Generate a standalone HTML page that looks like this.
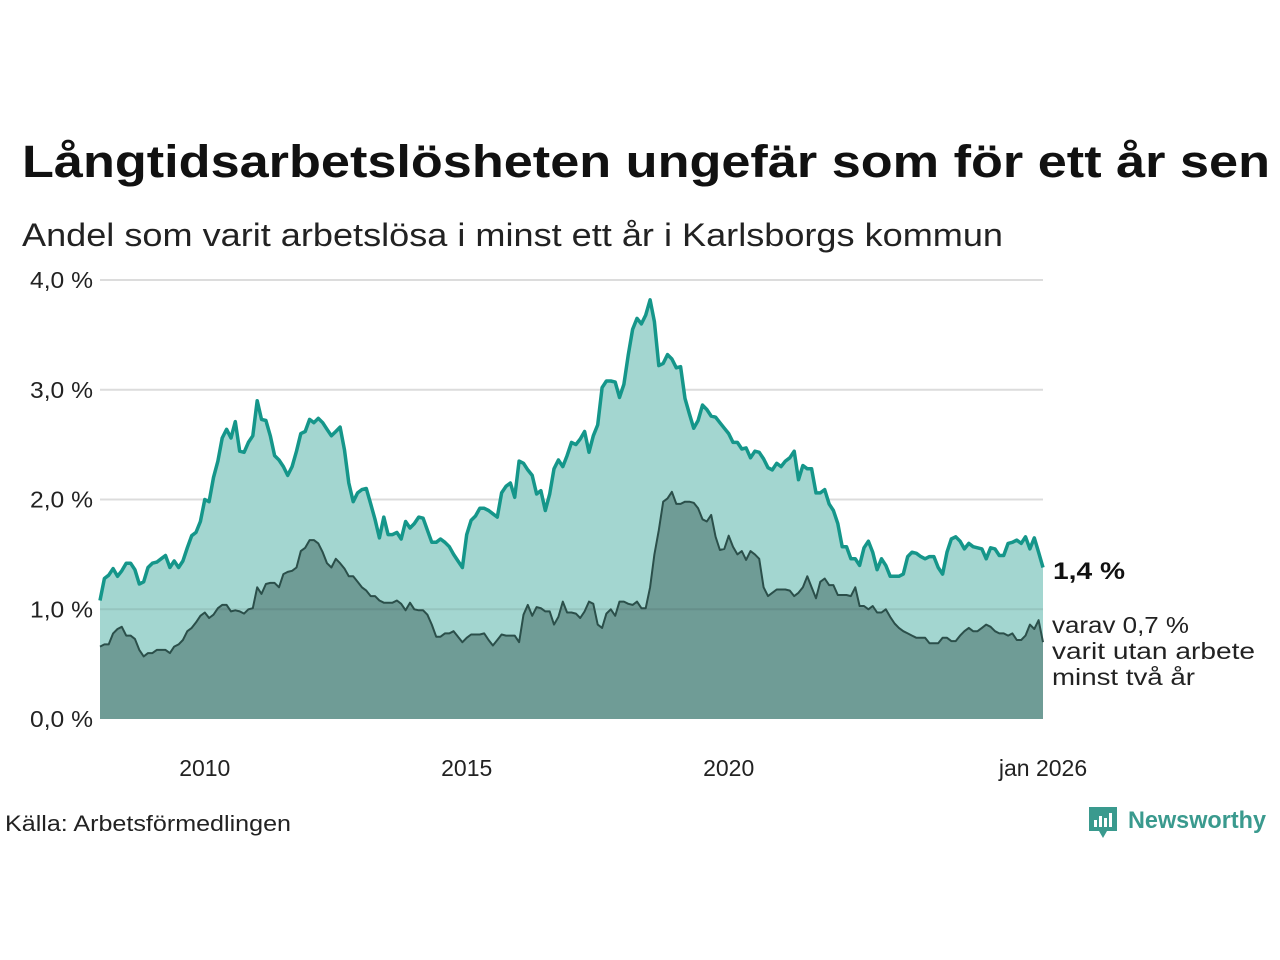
<!DOCTYPE html>
<html><head><meta charset="utf-8"><style>
html,body{margin:0;padding:0;background:#fff;}
svg{display:block;font-family:"Liberation Sans","DejaVu Sans",sans-serif;}
</style></head><body>
<svg id="chart" width="1280" height="960" viewBox="0 0 1280 960">
<text x="22" y="177" font-size="45" font-weight="bold" fill="#111" textLength="1248" lengthAdjust="spacingAndGlyphs">Långtidsarbetslösheten ungefär som för ett år sen</text>
<text x="22" y="246" font-size="32" fill="#222" textLength="981" lengthAdjust="spacingAndGlyphs">Andel som varit arbetslösa i minst ett år i Karlsborgs kommun</text>
<g id="grid"></g>
<g id="areas"></g>
<g id="yticks"></g>
<g id="xticks"></g>
<text x="1053" y="579" font-size="24" font-weight="bold" fill="#111" textLength="72" lengthAdjust="spacingAndGlyphs">1,4 %</text>
<text font-size="23" fill="#222"><tspan x="1052" y="633" textLength="137" lengthAdjust="spacingAndGlyphs">varav 0,7 %</tspan><tspan x="1052" y="659" textLength="203" lengthAdjust="spacingAndGlyphs">varit utan arbete</tspan><tspan x="1052" y="685" textLength="143" lengthAdjust="spacingAndGlyphs">minst två år</tspan></text>
<text x="5" y="831" font-size="22" fill="#222" textLength="286" lengthAdjust="spacingAndGlyphs">Källa: Arbetsförmedlingen</text>
<g>
<path d="M1089 807 h28 v24 h-10 l-4 7 l-4 -7 h-10 z" fill="#3a9a8e"/>
<rect x="1094" y="820" width="3" height="7" fill="#fff"/><rect x="1099" y="816" width="3" height="11" fill="#fff"/><rect x="1104" y="818" width="3" height="9" fill="#fff"/><rect x="1109" y="813" width="3" height="14" fill="#fff"/>
<text x="1128" y="828" font-size="24" font-weight="bold" fill="#3a9a8e" textLength="138" lengthAdjust="spacingAndGlyphs">Newsworthy</text>
</g>
</svg>
<script>
const startYear = 2008;
const total = [
1.08,1.28,1.31,1.37,1.30,1.35,1.42,1.42,1.36,1.23,1.25,1.38,
1.42,1.43,1.46,1.49,1.38,1.44,1.38,1.44,1.56,1.67,1.70,1.80,
2.00,1.98,2.20,2.35,2.56,2.64,2.56,2.71,2.44,2.43,2.52,2.58,
2.90,2.73,2.72,2.58,2.40,2.36,2.30,2.22,2.30,2.44,2.60,2.62,
2.73,2.70,2.74,2.70,2.64,2.58,2.62,2.66,2.45,2.15,1.98,2.06,
2.09,2.10,1.96,1.82,1.65,1.84,1.68,1.68,1.70,1.64,1.80,1.74,
1.78,1.84,1.83,1.72,1.61,1.61,1.64,1.61,1.57,1.50,1.44,1.38,
1.68,1.81,1.85,1.92,1.92,1.90,1.87,1.84,2.06,2.12,2.15,2.02,
2.35,2.33,2.27,2.22,2.05,2.08,1.90,2.05,2.28,2.36,2.30,2.40,
2.52,2.50,2.55,2.62,2.43,2.58,2.68,3.02,3.08,3.08,3.07,2.93,
3.05,3.32,3.55,3.65,3.60,3.68,3.82,3.62,3.22,3.24,3.32,3.28,
3.20,3.21,2.92,2.78,2.65,2.72,2.86,2.82,2.76,2.75,2.70,2.65,
2.60,2.52,2.52,2.46,2.47,2.38,2.44,2.43,2.37,2.29,2.27,2.33,
2.30,2.35,2.38,2.44,2.18,2.31,2.28,2.28,2.06,2.06,2.09,1.96,
1.90,1.78,1.57,1.57,1.46,1.46,1.40,1.56,1.62,1.52,1.36,1.46,
1.40,1.30,1.30,1.30,1.32,1.48,1.52,1.51,1.48,1.46,1.48,1.48,
1.38,1.32,1.52,1.64,1.66,1.62,1.55,1.60,1.57,1.56,1.55,1.46,
1.56,1.55,1.49,1.49,1.60,1.61,1.63,1.60,1.66,1.55,1.65,1.52,
1.38];
const longterm = [
0.66,0.68,0.68,0.78,0.82,0.84,0.76,0.76,0.73,0.63,0.57,0.60,
0.60,0.63,0.63,0.63,0.60,0.66,0.68,0.72,0.80,0.83,0.88,0.94,
0.97,0.92,0.95,1.01,1.04,1.04,0.98,0.99,0.98,0.96,1.00,1.01,
1.20,1.14,1.23,1.24,1.24,1.20,1.32,1.34,1.35,1.38,1.53,1.56,
1.63,1.63,1.60,1.52,1.42,1.38,1.46,1.42,1.37,1.30,1.30,1.25,
1.20,1.17,1.12,1.12,1.08,1.06,1.06,1.06,1.08,1.05,0.99,1.06,
1.00,0.99,0.99,0.95,0.86,0.75,0.75,0.78,0.78,0.80,0.75,0.70,
0.74,0.77,0.77,0.77,0.78,0.72,0.67,0.72,0.77,0.76,0.76,0.76,
0.70,0.95,1.04,0.94,1.02,1.01,0.98,0.98,0.86,0.93,1.07,0.97,
0.97,0.96,0.92,0.98,1.07,1.05,0.86,0.83,0.96,1.00,0.94,1.07,
1.07,1.05,1.04,1.07,1.01,1.01,1.20,1.50,1.72,1.98,2.01,2.07,
1.96,1.96,1.98,1.98,1.97,1.92,1.82,1.80,1.86,1.66,1.54,1.55,
1.67,1.57,1.50,1.53,1.45,1.53,1.50,1.46,1.20,1.12,1.15,1.18,
1.18,1.18,1.17,1.12,1.15,1.20,1.30,1.20,1.10,1.25,1.28,1.22,
1.22,1.13,1.13,1.13,1.12,1.20,1.03,1.03,1.00,1.03,0.97,0.97,
1.00,0.93,0.87,0.83,0.80,0.78,0.76,0.74,0.74,0.74,0.69,0.69,
0.69,0.74,0.74,0.71,0.71,0.76,0.80,0.83,0.80,0.80,0.83,0.86,
0.84,0.80,0.78,0.78,0.76,0.78,0.72,0.72,0.76,0.86,0.82,0.90,
0.70];
const yTicks = [0,1,2,3,4];
const yTickLabels = ["0,0 %","1,0 %","2,0 %","3,0 %","4,0 %"];
const xTickMonths = [24,84,144,216];
const xTickLabels = ["2010","2015","2020","jan 2026"];

const NS = "http://www.w3.org/2000/svg";
const X0 = 100, X1 = 1043, Y0 = 719, Y4 = 280;
const n = total.length;
const xs = i => X0 + (X1 - X0) * i / (n - 1);
const ys = v => Y0 - (Y0 - Y4) * v / 4;
function mk(tag, attrs, parent) {
  const e = document.createElementNS(NS, tag);
  for (const k in attrs) e.setAttribute(k, attrs[k]);
  parent.appendChild(e);
  return e;
}
const grid = document.getElementById('grid');
const yt = document.getElementById('yticks');
yTicks.forEach((t, i) => {
  if (t > 0) {
    const l = mk('line', {x1: X0, x2: X1, y1: ys(t), y2: ys(t), stroke: '#dcdcdc', 'stroke-width': 2}, grid);
    
    
  }
  const tx = mk('text', {x: 93, y: ys(t) + 8, 'font-size': 23, fill: '#222', 'text-anchor': 'end', textLength: 63, lengthAdjust: 'spacingAndGlyphs'}, yt);
  tx.textContent = yTickLabels[i];
  
  
});
const xt = document.getElementById('xticks');
xTickMonths.forEach((m, i) => {
  const tx = mk('text', {x: xs(m), y: 776, 'font-size': 23, fill: '#222', 'text-anchor': 'middle'}, xt);
  tx.textContent = xTickLabels[i];
  
  
});
function linePts(arr) { return arr.map((v, i) => xs(i).toFixed(1) + ',' + ys(v).toFixed(1)).join(' L'); }
function areaD(arr) { return 'M' + X0 + ',' + Y0 + ' L' + linePts(arr) + ' L' + X1 + ',' + Y0 + ' Z'; }
const areas = document.getElementById('areas');
const a1 = mk('path', {d: areaD(total), fill: '#a3d6d0'}, areas);


const a2 = mk('path', {d: areaD(longterm), fill: '#6f9c96'}, areas);


const gl = mk('line', {x1: X0, x2: X1, y1: ys(1), y2: ys(1), stroke: '#000', 'stroke-opacity': 0.08, 'stroke-width': 2}, areas);


const l1 = mk('path', {d: 'M' + linePts(total), fill: 'none', stroke: '#15968a', 'stroke-width': 3.5, 'stroke-linejoin': 'round'}, areas);


const l2 = mk('path', {d: 'M' + linePts(longterm), fill: 'none', stroke: '#2b4f4a', 'stroke-width': 2, 'stroke-linejoin': 'round'}, areas);


</script>
</body></html>
